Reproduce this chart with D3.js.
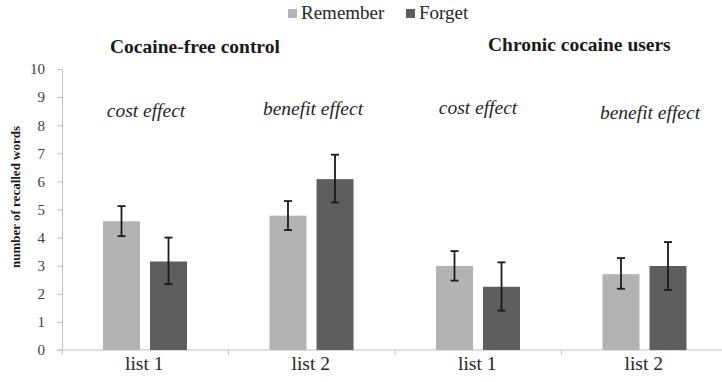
<!DOCTYPE html>
<html>
<head>
<meta charset="utf-8">
<script src="https://cdn.jsdelivr.net/npm/d3@7"></script>
<style>
  body { margin: 0; background: #fff; }
  svg text { font-family: "Liberation Serif", "Times New Roman", serif !important; }
</style>
</head>
<body>
<div class="chart"></div>
<script>
// values
var categories = ["list 1", "list 2", "list 1", "list 2"];
var seriesNames = ["Remember", "Forget"];
var remember = [4.58, 4.78, 2.99, 2.70];
var rememberLow = [4.05, 4.27, 2.47, 2.18];
var rememberHigh = [5.12, 5.30, 3.52, 3.27];
var forget = [3.15, 6.08, 2.25, 2.99];
var forgetLow = [2.35, 5.25, 1.40, 2.14];
var forgetHigh = [4.00, 6.95, 3.12, 3.84];
var effects = ["cost effect", "benefit effect", "cost effect", "benefit effect"];
var groupTitles = ["Cocaine-free control", "Chronic cocaine users"];
var yTicks = [0, 1, 2, 3, 4, 5, 6, 7, 8, 9, 10];

var colors = { "Remember": "#b3b3b3", "Forget": "#5e5e5e" };

var width = 722, height = 382;
var margin = { top: 69, right: -6, bottom: 32, left: 62 };

var svg = d3.select(".chart").append("svg")
    .attr("width", width)
    .attr("height", height);

var x = d3.scaleBand()
    .domain(d3.range(categories.length))
    .range([margin.left, width - margin.right]);

var xInner = d3.scaleBand()
    .domain(seriesNames)
    .range([41, 125])
    .paddingInner(0.213);

var y = d3.scaleLinear()
    .domain([0, 10])
    .range([height - margin.bottom, margin.top]);

var rows = categories.map(function(c, i) {
    return [
        { i: i, key: "Remember", v: remember[i], lo: rememberLow[i], hi: rememberHigh[i] },
        { i: i, key: "Forget", v: forget[i], lo: forgetLow[i], hi: forgetHigh[i] }
    ];
});

// y axis
var yAxis = svg.append("g")
    .attr("transform", "translate(" + margin.left + ",0)")
    .call(d3.axisLeft(y).tickValues(yTicks).tickSize(5).tickSizeOuter(0).tickPadding(12));
yAxis.select(".domain").attr("stroke", "#bfbfbf");
yAxis.selectAll(".tick line").attr("stroke", "#bfbfbf");
yAxis.selectAll("text")
    .attr("font-size", 15)
    .attr("fill", "#404040");

// x axis with ticks on category borders
var xAxis = svg.append("g")
    .attr("transform", "translate(0," + y(0) + ")");
xAxis.append("line")
    .attr("x1", margin.left - 4).attr("x2", width)
    .attr("stroke", "#bfbfbf");
xAxis.selectAll(".bt")
    .data(d3.range(categories.length + 1))
    .join("line")
    .attr("class", "bt")
    .attr("x1", function(d) { return margin.left + d * x.step(); })
    .attr("x2", function(d) { return margin.left + d * x.step(); })
    .attr("y1", 0).attr("y2", 5)
    .attr("stroke", "#bfbfbf");
xAxis.selectAll(".cl")
    .data(categories)
    .join("text")
    .attr("class", "cl")
    .attr("x", function(d, i) { return x(i) + x.bandwidth() / 2 - 1; })
    .attr("y", 20)
    .attr("text-anchor", "middle")
    .attr("font-size", 19.5)
    .attr("fill", "#262626")
    .text(function(d) { return d; });

// bars
var groups = svg.selectAll(".grp")
    .data(rows)
    .join("g")
    .attr("class", "grp")
    .attr("transform", function(d, i) { return "translate(" + x(i) + ",0)"; });

groups.selectAll("rect")
    .data(function(d) { return d; })
    .join("rect")
    .attr("x", function(d) { return xInner(d.key); })
    .attr("y", function(d) { return y(d.v); })
    .attr("width", xInner.bandwidth())
    .attr("height", function(d) { return y(0) - y(d.v); })
    .attr("fill", function(d) { return colors[d.key]; });

// error bars
var err = groups.selectAll(".err")
    .data(function(d) { return d; })
    .join("g")
    .attr("class", "err")
    .attr("stroke", "#1a1a1a")
    .attr("stroke-width", 1.8)
    .attr("transform", function(d) { return "translate(" + (xInner(d.key) + xInner.bandwidth() / 2) + ",0)"; });
err.append("line")
    .attr("y1", function(d) { return y(d.lo); })
    .attr("y2", function(d) { return y(d.hi); });
err.append("line")
    .attr("x1", -4).attr("x2", 4)
    .attr("y1", function(d) { return y(d.lo); })
    .attr("y2", function(d) { return y(d.lo); });
err.append("line")
    .attr("x1", -4).attr("x2", 4)
    .attr("y1", function(d) { return y(d.hi); })
    .attr("y2", function(d) { return y(d.hi); });

// effect labels
var effectX = [146, 313, 478, 650];
var effectY = [117, 115, 114, 119];
svg.selectAll(".eff")
    .data(effects)
    .join("text")
    .attr("class", "eff")
    .attr("x", function(d, i) { return effectX[i]; })
    .attr("y", function(d, i) { return effectY[i]; })
    .attr("text-anchor", "middle")
    .attr("font-style", "italic")
    .attr("font-size", 19.5)
    .attr("fill", "#262626")
    .text(function(d) { return d; });

// group titles
var titleX = [110, 488];
var titleY = [53, 51];
svg.selectAll(".gt")
    .data(groupTitles)
    .join("text")
    .attr("class", "gt")
    .attr("x", function(d, i) { return titleX[i]; })
    .attr("y", function(d, i) { return titleY[i]; })
    .attr("font-weight", "bold")
    .attr("font-size", 19.5)
    .attr("fill", "#1a1a1a")
    .text(function(d) { return d; });

// y axis title
svg.append("text")
    .attr("transform", "translate(20,197) rotate(-90)")
    .attr("text-anchor", "middle")
    .attr("font-weight", "bold")
    .attr("font-size", 13)
    .attr("fill", "#1a1a1a")
    .text("number of recalled words");

// legend
var legend = svg.append("g").attr("transform", "translate(0,19)");
var legX = [288, 406];
var li = legend.selectAll(".li")
    .data(seriesNames)
    .join("g")
    .attr("class", "li")
    .attr("transform", function(d, i) { return "translate(" + legX[i] + ",0)"; });
li.append("rect")
    .attr("x", 0).attr("y", -10)
    .attr("width", 9).attr("height", 9)
    .attr("fill", function(d) { return colors[d]; });
li.append("text")
    .attr("x", 13).attr("y", 0)
    .attr("font-size", 19)
    .attr("fill", "#262626")
    .text(function(d) { return d; });
</script>
</body>
</html>
